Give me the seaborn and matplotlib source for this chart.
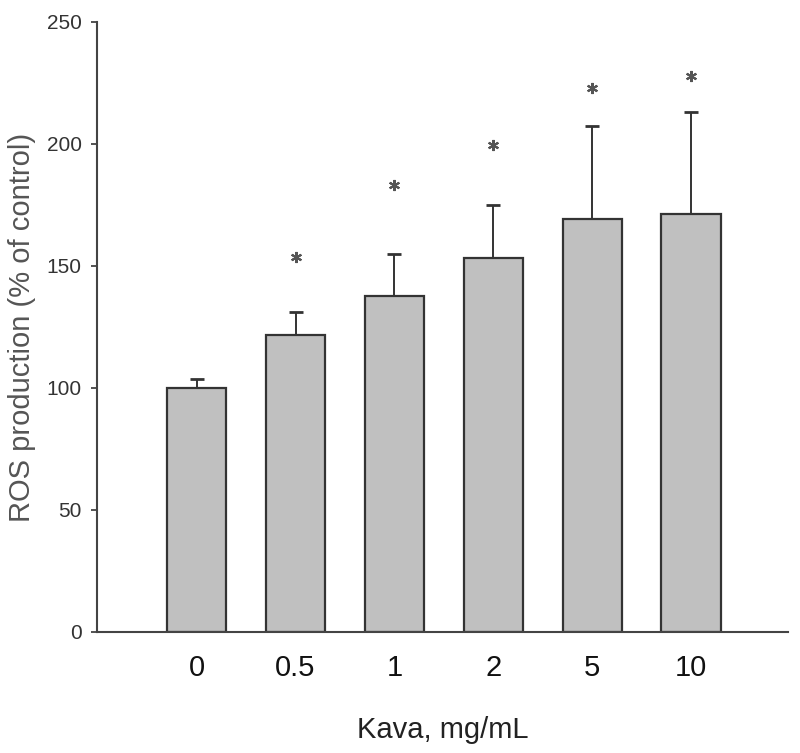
import matplotlib
matplotlib.use('Agg')
import matplotlib.pyplot as plt
import seaborn as sns
import pandas as pd

# values
kava = ['0', '0.5', '1', '2', '5', '10']
ros = [100.0, 121.7, 137.7, 153.3, 169.3, 171.3]
ros_err = [3.7, 9.3, 17.3, 21.7, 38.1, 41.7]
star_pos = [1, 2, 3, 4, 5]
star_y = [153.7, 183.0, 199.6, 223.0, 228.0]
y_ticks = [0, 50, 100, 150, 200, 250]

sns.set_style('white')
plt.rcParams['font.family'] = ['Liberation Sans', 'DejaVu Sans']

df = pd.DataFrame({'kava': kava, 'ros': ros})

fig = plt.figure(figsize=(8, 7.53), dpi=100)
ax = fig.add_axes([0.121, 0.1607, 0.864, 0.8101])

sns.barplot(data=df, x='kava', y='ros', order=kava, color='#c0c0c0',
            saturation=1, width=0.6, edgecolor='#333333', linewidth=1.6,
            errorbar=None, ax=ax, zorder=2)

# upper-only error bars
ax.errorbar(range(len(kava)), ros, yerr=[[0] * len(ros), ros_err], fmt='none',
            ecolor='#333333', elinewidth=1.4, capsize=5, capthick=2, zorder=1)

# significance markers
ax.plot(star_pos, star_y, linestyle='none', marker=(6, 2, 0), markersize=8,
        markeredgewidth=1.5, color='#555555', zorder=3)

ax.set_xlim(-1.01, 5.98)
ax.set_ylim(0, 250)
ax.set_yticks(y_ticks)

for side in ['top', 'right']:
    ax.spines[side].set_visible(False)
for side in ['left', 'bottom']:
    ax.spines[side].set_color('#444444')
    ax.spines[side].set_linewidth(1.5)

ax.tick_params(axis='x', length=0, pad=16, labelsize=21, labelcolor='#111111')
ax.tick_params(axis='y', direction='out', length=4, width=1.3, color='#444444',
               pad=7, labelsize=15, labelcolor='#333333', left=True)

ax.set_xlabel('Kava, mg/mL', fontsize=21, color='#222222', labelpad=24)
ax.set_ylabel('ROS production (% of control)', fontsize=21, color='#555555')
ax.yaxis.set_label_coords(-0.088, 0.5)

fig.savefig('out.png', dpi=100)
